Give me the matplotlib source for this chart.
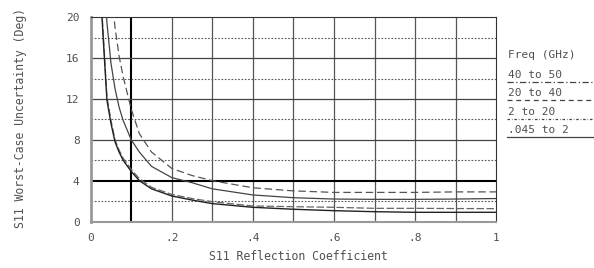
import matplotlib
matplotlib.use("Agg")
import matplotlib.pyplot as plt

# reflection coefficient samples
refl = [0.025, 0.03, 0.04, 0.05, 0.06, 0.07, 0.08, 0.1, 0.12, 0.15,
        0.2, 0.25, 0.3, 0.4, 0.5, 0.6, 0.7, 0.8, 0.9, 1.0]

# worst-case uncertainty (deg) for each frequency band
unc_40_50 = [45, 38, 28, 23, 19, 16.2, 14.2, 11.0, 8.6, 6.8,
             5.2, 4.5, 4.0, 3.3, 3.0, 2.85, 2.85, 2.85, 2.9, 2.9]
unc_20_40 = [31, 25, 19.5, 15.5, 13, 11.2, 9.9, 8.0, 6.8, 5.4,
             4.3, 3.8, 3.2, 2.6, 2.33, 2.2, 2.17, 2.17, 2.2, 2.25]
unc_2_20 = [22.5, 19, 12.2, 9.9, 8.0, 7.0, 6.2, 5.1, 4.2, 3.35,
            2.65, 2.25, 1.94, 1.52, 1.45, 1.39, 1.29, 1.29, 1.27, 1.26]
unc_045_2 = [22, 18.5, 11.9, 9.6, 7.8, 6.8, 6.0, 4.9, 4.0, 3.2,
             2.5, 2.1, 1.75, 1.39, 1.2, 1.06, 0.96, 0.9, 0.9, 0.9]

legend_labels = ["40 to 50", "20 to 40", "2 to 20", ".045 to 2"]
x_ticks = [0, 0.2, 0.4, 0.6, 0.8, 1.0]
x_ticklabels = ["0", ".2", ".4", ".6", ".8", "1"]
y_ticks = [0, 4, 8, 12, 16, 20]

mono = "DejaVu Sans Mono"
txt = "#505050"
W, H = 594, 268

fig = plt.figure(figsize=(5.94, 2.68), dpi=100)
ax = fig.add_axes([0.1527, 0.1735, 0.8353 - 0.1527, 0.9354 - 0.1735])

# grid
for gx in [0.1, 0.2, 0.3, 0.4, 0.5, 0.6, 0.7, 0.8, 0.9]:
    if gx == 0.1:
        ax.axvline(gx, color="black", lw=1.5, zorder=1)
    else:
        ax.axvline(gx, color="#555555", lw=0.9, zorder=1)
for gy in [4, 8, 12, 16]:
    if gy == 4:
        ax.axhline(gy, color="black", lw=1.5, zorder=1)
    else:
        ax.axhline(gy, color="#444444", lw=0.9, zorder=1)
for gy in [2, 6, 10, 14, 18]:
    ax.axhline(gy, color="#555555", lw=0.8, ls=(0, (1.5, 1.5)), zorder=1)

# curves
ax.plot(refl, unc_40_50, color="#555555", lw=0.9, ls=(0, (6, 3)), zorder=3)
ax.plot(refl, unc_20_40, color="#444444", lw=0.9, zorder=3)
ax.plot(refl, unc_2_20, color="#666666", lw=0.9, ls=(0, (6, 2)), zorder=3)
ax.plot(refl, unc_045_2, color="#222222", lw=1.0, zorder=3)

ax.set_xlim(0, 1)
ax.set_ylim(0, 20)
ax.set_xticks(x_ticks)
ax.set_xticklabels(x_ticklabels)
ax.set_yticks(y_ticks)
ax.tick_params(axis="x", length=0, pad=8, labelsize=8, labelcolor=txt)
ax.tick_params(axis="y", length=0, pad=8, labelsize=8, labelcolor=txt)
for lab in ax.get_xticklabels() + ax.get_yticklabels():
    lab.set_family(mono)

ax.spines["left"].set_color("#999999")
ax.spines["left"].set_linewidth(2)
ax.spines["bottom"].set_color("#999999")
ax.spines["bottom"].set_linewidth(1.5)
ax.spines["top"].set_color("#333333")
ax.spines["right"].set_color("#333333")

ax.set_xlabel("S11 Reflection Coefficient", family=mono, fontsize=8.3,
              color=txt, va="center")
ax.set_ylabel("S11 Worst-Case Uncertainty (Deg)", family=mono, fontsize=8.3,
              color=txt, va="center")
ax.xaxis.set_label_coords((298 - 90.7) / 405.3, (221.5 - 256) / 204.2)
ax.yaxis.set_label_coords((21 - 90.7) / 405.3, (221.5 - 117.5) / 204.2)

# legend drawn at the right side
fig.text(508 / W, 1 - 55 / H, "Freq (GHz)", family=mono, fontsize=8,
         color=txt, va="center")
leg_styles = [(0, (5, 2, 1, 2)), (0, (4, 3)), (0, (2, 1.5, 0.5, 1.5)), "-"]
for i, lab in enumerate(legend_labels):
    yc = 75 + i * 18.4
    fig.text(508 / W, 1 - yc / H, lab, family=mono, fontsize=8,
             color=txt, va="center")
    yl = 1 - (yc + 6.7) / H
    fig.add_artist(plt.Line2D([507 / W, 1.0], [yl, yl], color="#444444",
                              lw=0.9, ls=leg_styles[i]))

fig.savefig("out.png", dpi=100)
